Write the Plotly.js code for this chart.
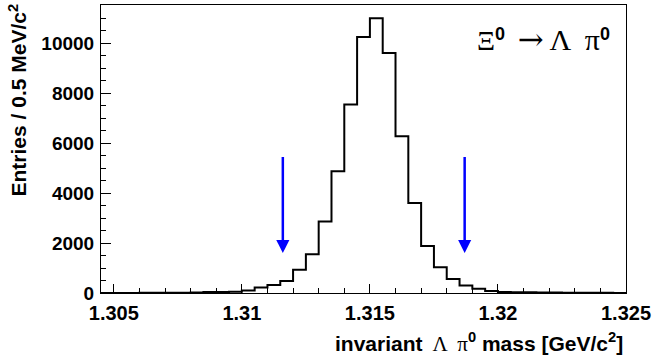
<!DOCTYPE html>
<html>
<head>
<meta charset="utf-8">
<script src="https://cdn.plot.ly/plotly-3.0.1.min.js"></script>
<style>
  html, body { margin: 0; padding: 0; background: #fff; }
  #plot { width: 654px; height: 357px; }
</style>
</head>
<body>
<div id="plot"></div>
<script>
  // ─── Data ─────────────────────────────────────────────────────────────────────
  // histogram: 41 bins of 0.5 MeV starting at 1.3045 GeV/c^2
  var binLow   = 1.3045;
  var binWidth = 0.0005;
  var counts   = [
    3, 4, 5, 6, 8, 10, 15, 20, 40, 45,
    55, 100, 220, 320, 480, 935, 1550, 2860, 4870, 7540,
    10240, 10990, 9600, 6270, 3600, 1880, 1030, 560, 300, 170,
    85, 45, 35, 28, 22, 18, 14, 10, 8, 6,
    5
  ];

  // mass window cuts (arrows)
  var cutPositions = [1.3116, 1.3187];
  var arrowTop     = 5500;
  var arrowTip     = 1600;

  var xTickVals   = [1.305, 1.31, 1.315, 1.32, 1.325];
  var xTickLabels = ['1.305', '1.31', '1.315', '1.32', '1.325'];
  var yTickVals   = [0, 2000, 4000, 6000, 8000, 10000];
  var yTickLabels = ['0', '2000', '4000', '6000', '8000', '10000'];

  // ─── Step outline ─────────────────────────────────────────────────────────────
  var xs = [], ys = [];
  for (var i = 0; i < counts.length; i++) {
    xs.push(binLow + i * binWidth);
    ys.push(counts[i]);
  }
  xs.push(binLow + counts.length * binWidth);
  ys.push(counts[counts.length - 1]);

  var SANS  = 'Liberation Sans, Arial, sans-serif';
  var SERIF = 'Liberation Serif, Times New Roman, serif';

  var trace = {
    x: xs, y: ys,
    mode: 'lines',
    line: { color: '#000', width: 2, shape: 'hv' },
    hoverinfo: 'skip'
  };

  function serif(s, size) {
    return '<span style="font-family:' + SERIF + ';font-weight:normal;font-size:' + size + 'px">' + s + '</span>';
  }
  function supBold(s, size) {
    return '<sup><span style="font-family:' + SANS + ';font-weight:bold;font-size:' + size + 'px">' + s + '</span></sup>';
  }

  // ─── Annotations ──────────────────────────────────────────────────────────────
  var annotations = cutPositions.map(function (c) {
    return {
      x: c, y: arrowTip, xref: 'x', yref: 'y',
      ax: c, ay: arrowTop, axref: 'x', ayref: 'y',
      text: '', showarrow: true,
      arrowhead: 2, arrowsize: 1.05, arrowwidth: 2.5,
      arrowcolor: '#0000ff', standoff: 0
    };
  });

  // decay label, top right
  annotations.push({
    xref: 'paper', yref: 'paper', x: 0.843, y: 1, yshift: -34,
    xanchor: 'center', yanchor: 'middle', showarrow: false,
    text: serif('Ξ', 28) + supBold('0', 18) +
          serif('\u2009 ', 28) +
          '<span style="font-family:DejaVu Serif;font-weight:normal;font-size:31px">→</span>' +
          serif(' Λ\u2009 π', 30) + supBold('0', 18),
    font: { family: SANS, size: 24, color: '#000' }
  });

  // x axis title, right aligned
  annotations.push({
    xref: 'paper', yref: 'paper', x: 1, y: 0, xshift: -1, yshift: -49,
    xanchor: 'right', yanchor: 'middle', showarrow: false,
    text: 'invariant ' + serif('\u2009Λ\u2009 π', 21) + '<sup>0</sup> mass [GeV/c<sup>2</sup>]',
    font: { family: SANS, size: 21, weight: 'bold', color: '#000' }
  });

  // y axis title, top aligned
  annotations.push({
    xref: 'paper', yref: 'paper', x: 0, y: 1, xshift: -84, yshift: 3,
    xanchor: 'center', yanchor: 'top', textangle: -90, showarrow: false,
    text: 'Entries / 0.5 MeV/c<sup>2</sup>',
    font: { family: SANS, size: 21, weight: 'bold', color: '#000' }
  });

  // ─── Layout ───────────────────────────────────────────────────────────────────
  var layout = {
    width: 654, height: 357,
    margin: { l: 101, r: 28, t: 5, b: 64 },
    paper_bgcolor: '#fff', plot_bgcolor: '#fff',
    showlegend: false,
    xaxis: {
      range: [binLow, 1.325],
      tickmode: 'array', tickvals: xTickVals, ticktext: xTickLabels,
      ticks: 'inside', ticklen: 9, tickwidth: 1, tickcolor: '#000',
      ticklabelstandoff: 2,
      minor: { tickmode: 'linear', tick0: 1.305, dtick: 0.001, ticks: 'inside', ticklen: 5, tickcolor: '#000', showgrid: false },
      showgrid: false, zeroline: false,
      showline: true, mirror: true, linecolor: '#000', linewidth: 1,
      tickfont: { family: SANS, size: 20, weight: 'bold', color: '#000' }
    },
    yaxis: {
      range: [0, 11520],
      tickmode: 'array', tickvals: yTickVals, ticktext: yTickLabels,
      ticks: 'inside', ticklen: 10, tickwidth: 1, tickcolor: '#000',
      ticklabelstandoff: 2,
      minor: { tickmode: 'linear', tick0: 0, dtick: 500, ticks: 'inside', ticklen: 5, tickcolor: '#000', showgrid: false },
      showgrid: false, zeroline: false,
      showline: true, mirror: true, linecolor: '#000', linewidth: 1,
      tickfont: { family: SANS, size: 19, weight: 'bold', color: '#000' }
    },
    annotations: annotations
  };

  Plotly.newPlot('plot', [trace], layout, { staticPlot: true, displayModeBar: false });
</script>
</body>
</html>
